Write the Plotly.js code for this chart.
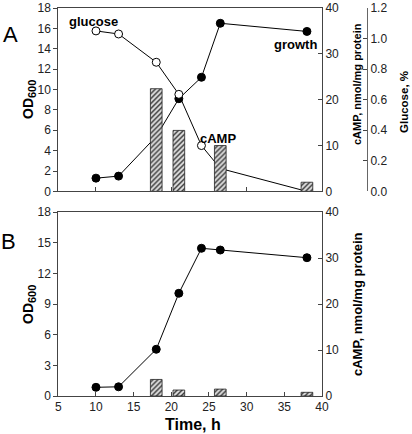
<!DOCTYPE html>
<html><head><meta charset="utf-8">
<script src="https://cdn.plot.ly/plotly-3.0.1.min.js"></script>
<style>html,body{margin:0;padding:0;background:#fff}#plot{width:412px;height:434px}</style>
</head><body><div id="plot"></div>
<script>
// Panel A
const timeA = [10, 13, 18, 21, 24, 26.5, 38];
const growthA = [1.3, 1.5, 5.4, 9.1, 11.2, 16.5, 15.7];
const glucoseA = [1.05, 1.03, 0.845, 0.635, 0.30, 0.15, 0.0];
const campTimeA = [18, 21, 26.5, 38];
const campA = [22.4, 13.3, 10.0, 2.0];
// Panel B
const timeB = [10, 13, 18, 21, 24, 26.5, 38];
const growthB = [0.85, 0.9, 4.57, 10.05, 14.45, 14.28, 13.53];
const campTimeB = [18, 21, 26.5, 38];
const campB = [3.6, 1.3, 1.5, 0.8];
// tick labels
const glucoseTicks = [0, 0.2, 0.4, 0.6, 0.8, 1.0, 1.2];

const FONT = 'Liberation Sans, Arial, sans-serif';
const axCol = '#444';
const barStyle = {
  color: '#dcdcdc',
  line: {color: '#222', width: 0.8},
  pattern: {shape: '/', fgcolor: '#333', bgcolor: '#e0e0e0', size: 3.5, solidity: 0.4}
};
const filled = {symbol: 'circle', size: 8, color: '#000', line: {color: '#000', width: 1}};
const open = {symbol: 'circle', size: 8, color: '#fff', line: {color: '#000', width: 1}};
const ln = {color: '#000', width: 1};

const traces = [
  {x: timeA, y: growthA, type: 'scatter', mode: 'lines+markers', xaxis: 'x', yaxis: 'y', line: ln, marker: filled},
  {x: timeA, y: glucoseA, type: 'scatter', mode: 'lines+markers', xaxis: 'x', yaxis: 'y2', line: ln, marker: open},
  {x: campTimeA, y: campA, type: 'bar', xaxis: 'x', yaxis: 'y3', width: 1.55, marker: barStyle},
  {x: timeB, y: growthB, type: 'scatter', mode: 'lines+markers', xaxis: 'x2', yaxis: 'y4', line: ln, marker: filled},
  {x: campTimeB, y: campB, type: 'bar', xaxis: 'x2', yaxis: 'y5', width: 1.55, marker: barStyle}
];

const W = 412, H = 434;
const px = v => v / W, py = v => 1 - v / H;
const xd = [px(58.3), px(322)];
const yA = [py(191.4), py(8)];
const yB = [py(396), py(212)];
const tickF = {family: FONT, size: 12, color: '#222'};
const odTitle = 'OD<sub><span style="font-size:11px">600</span></sub>';

const baseX = {range: [5, 40], showgrid: false, zeroline: false, showline: true, linecolor: axCol, linewidth: 1,
  mirror: true, ticks: 'inside', ticklen: 4, tickcolor: axCol, tickfont: tickF, domain: xd};

function lab(text, x, y, size, angle, bold) {
  return {text: text, x: px(x), y: py(y), xref: 'paper', yref: 'paper', showarrow: false,
    xanchor: 'center', yanchor: 'middle', textangle: angle,
    font: {family: FONT, size: size, color: '#000', weight: bold ? 'bold' : 'normal'}};
}

const layout = {
  width: W, height: H, margin: {l: 0, r: 0, t: 0, b: 0},
  paper_bgcolor: '#fff', plot_bgcolor: '#fff', showlegend: false, bargap: 0,
  font: {family: FONT},
  xaxis: Object.assign({}, baseX, {anchor: 'y', dtick: 10, tick0: 0, showticklabels: false}),
  xaxis2: Object.assign({}, baseX, {anchor: 'y4', dtick: 5, tick0: 5}),
  yaxis: {domain: yA, range: [0, 18], dtick: 2, anchor: 'x', showgrid: false, zeroline: false, showline: true,
    linecolor: axCol, ticks: 'outside', ticklen: 4, tickcolor: axCol, tickfont: tickF},
  yaxis2: {overlaying: 'y', side: 'right', anchor: 'free', position: px(367), range: [0, 1.2],
    tickvals: glucoseTicks, tickformat: '.1f', showgrid: false, zeroline: false, showline: true,
    linecolor: '#666', ticks: 'inside', ticklen: 4, tickcolor: axCol, tickfont: tickF},
  yaxis3: {overlaying: 'y', side: 'right', anchor: 'x', range: [0, 40], dtick: 10, showgrid: false, zeroline: false,
    showline: true, linecolor: axCol, ticks: 'inside', ticklen: 4, tickcolor: axCol, tickfont: tickF},
  yaxis4: {domain: yB, range: [0, 18], dtick: 3, anchor: 'x2', showgrid: false, zeroline: false, showline: true,
    linecolor: axCol, ticks: 'outside', ticklen: 4, tickcolor: axCol, tickfont: tickF},
  yaxis5: {overlaying: 'y4', side: 'right', anchor: 'x2', range: [0, 40], dtick: 10, showgrid: false, zeroline: false,
    showline: true, linecolor: axCol, ticks: 'inside', ticklen: 4, tickcolor: axCol, tickfont: tickF},
  annotations: [
    {text: 'glucose', x: 9.7, y: 16.7, xref: 'x', yref: 'y', showarrow: false, font: {family: FONT, size: 13, color: '#000', weight: 'bold'}},
    {text: 'growth', x: 36.5, y: 14.4, xref: 'x', yref: 'y', showarrow: false, font: {family: FONT, size: 13, color: '#000', weight: 'bold'}},
    {text: 'cAMP', x: 26.2, y: 5.24, xref: 'x', yref: 'y', showarrow: false, font: {family: FONT, size: 13, color: '#000', weight: 'bold'}},
    lab('A', 10.5, 34.5, 22, 0, false),
    lab('B', 8.5, 241.5, 22, 0, false),
    lab(odTitle, 29, 100, 14, -90, true),
    lab(odTitle, 29, 305, 14, -90, true),
    lab('cAMP, nmol/mg protein', 357, 84, 11, -90, true),
    lab('Glucose, %', 404, 102, 11.5, -90, true),
    lab('cAMP, nmol/mg protein', 357, 304, 13, -90, true),
    lab('Time, h', 193, 424, 16, 0, true)
  ]
};

Plotly.newPlot('plot', traces, layout, {displayModeBar: false, staticPlot: true});
</script></body></html>
